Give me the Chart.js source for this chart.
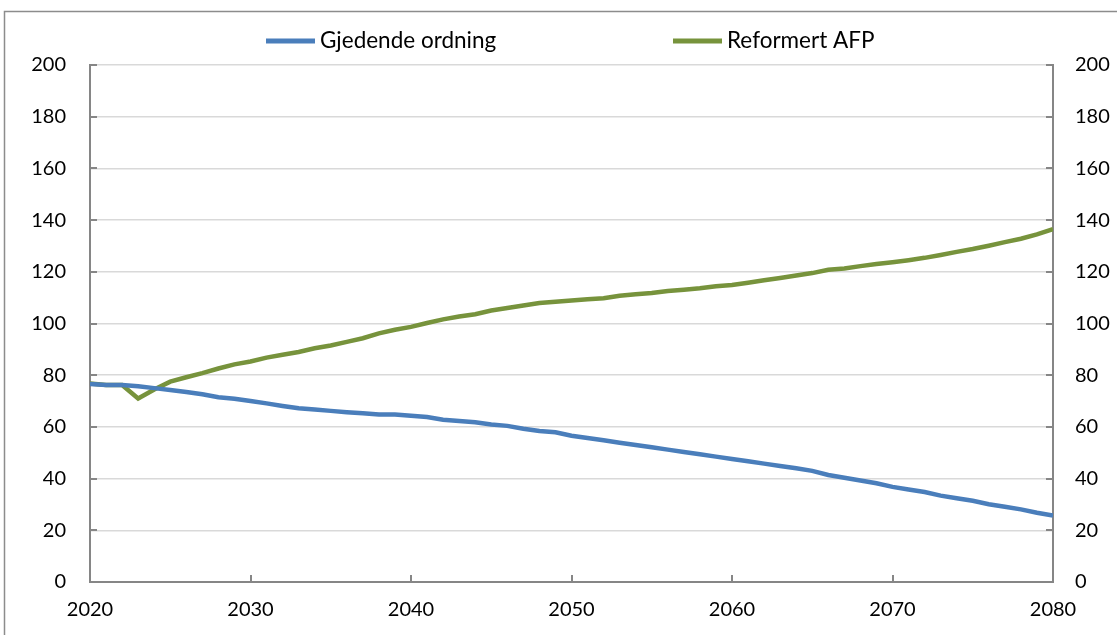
<!DOCTYPE html>
<html>
<head>
<meta charset="utf-8">
<script src="https://cdn.jsdelivr.net/npm/chart.js@4.4.1/dist/chart.umd.min.js"></script>
<style>
  html, body { margin: 0; padding: 0; background: #ffffff; }
  #wrap { position: relative; width: 1117px; height: 635px; }
  canvas { display: block; }
</style>
</head>
<body>
<div id="wrap"><canvas id="c" width="1117" height="635"></canvas></div>
<script>
// Years on the horizontal axis
const years = [
  2020, 2021, 2022, 2023, 2024, 2025, 2026, 2027, 2028, 2029,
  2030, 2031, 2032, 2033, 2034, 2035, 2036, 2037, 2038, 2039,
  2040, 2041, 2042, 2043, 2044, 2045, 2046, 2047, 2048, 2049,
  2050, 2051, 2052, 2053, 2054, 2055, 2056, 2057, 2058, 2059,
  2060, 2061, 2062, 2063, 2064, 2065, 2066, 2067, 2068, 2069,
  2070, 2071, 2072, 2073, 2074, 2075, 2076, 2077, 2078, 2079,
  2080
];

// Gjedende ordning
const gjedende = [
  76.6, 76.2, 76.2, 75.7, 75.0, 74.3, 73.5, 72.6, 71.5, 70.9,
  70.0, 69.1, 68.1, 67.2, 66.7, 66.2, 65.7, 65.3, 64.8, 64.8,
  64.3, 63.8, 62.8, 62.3, 61.8, 60.9, 60.4, 59.3, 58.4, 57.9,
  56.6, 55.7, 54.8, 53.9, 53.0, 52.1, 51.2, 50.3, 49.4, 48.5,
  47.6, 46.7, 45.8, 44.9, 44.0, 43.0, 41.4, 40.3, 39.3, 38.2,
  36.8, 35.8, 34.8, 33.4, 32.4, 31.4, 30.1, 29.1, 28.1, 26.8,
  25.7
];

// Reformert AFP
const reformert = [
  76.8, 76.2, 76.2, 71.0, 74.5, 77.5, 79.2, 80.8, 82.6, 84.2,
  85.3, 86.8, 87.9, 89.0, 90.4, 91.5, 92.9, 94.3, 96.2, 97.6,
  98.7, 100.2, 101.6, 102.7, 103.6, 105.0, 106.0, 107.0, 107.9, 108.4,
  108.9, 109.4, 109.8, 110.7, 111.3, 111.8, 112.6, 113.1, 113.6, 114.4,
  114.9, 115.8, 116.7, 117.6, 118.6, 119.5, 120.8, 121.3, 122.2, 123.0,
  123.7, 124.5, 125.4, 126.5, 127.7, 128.8, 130.1, 131.5, 132.8, 134.5,
  136.5
];

const seriesNames = ['Gjedende ordning', 'Reformert AFP'];
const seriesColors = ['#4a7ebb', '#77933c'];
const yTicks = [0, 20, 40, 60, 80, 100, 120, 140, 160, 180, 200];
const xTicks = [2020, 2030, 2040, 2050, 2060, 2070, 2080];

const FONT = "Lato, 'Open Sans', sans-serif";
const AXIS = '#868686';

const toPoints = vals => years.map((y, i) => ({ x: y, y: vals[i] }));

// Outer frame, inward tick marks and the legend row
const decor = {
  id: 'decor',
  beforeDraw(chart) {
    const ctx = chart.ctx;
    ctx.save();
    ctx.strokeStyle = '#8c8c8c';
    ctx.lineWidth = 1.5;
    ctx.strokeRect(4.5, 11.5, 1200, 700);
    ctx.restore();
  },
  afterDraw(chart) {
    const ctx = chart.ctx;
    const { x, y } = chart.scales;
    const ca = chart.chartArea;
    ctx.save();
    ctx.strokeStyle = AXIS;
    ctx.lineWidth = 2;
    ctx.beginPath();
    yTicks.forEach(v => {
      const py = Math.round(y.getPixelForValue(v));
      ctx.moveTo(ca.left, py); ctx.lineTo(ca.left + 7, py);
      ctx.moveTo(ca.right, py); ctx.lineTo(ca.right - 7, py);
    });
    xTicks.forEach(v => {
      const px = Math.round(x.getPixelForValue(v));
      ctx.moveTo(px, ca.bottom); ctx.lineTo(px, ca.bottom - 7);
    });
    ctx.stroke();

    // legend
    const starts = [266, 673];
    const ly = 41;
    ctx.font = '22.5px ' + FONT;
    ctx.textBaseline = 'middle';
    ctx.fillStyle = '#000';
    chart.data.datasets.forEach((ds, i) => {
      const sx = starts[i];
      ctx.strokeStyle = ds.borderColor;
      ctx.lineWidth = 5;
      ctx.beginPath();
      ctx.moveTo(sx, ly); ctx.lineTo(sx + 49, ly);
      ctx.stroke();
      ctx.fillText(ds.label, sx + 54, ly);
    });
    ctx.restore();
  }
};

new Chart(document.getElementById('c'), {
  type: 'line',
  data: {
    datasets: [
      { label: seriesNames[0], data: toPoints(gjedende), borderColor: seriesColors[0],
        backgroundColor: seriesColors[0], borderWidth: 4.5, pointRadius: 0, tension: 0, yAxisID: 'y' },
      { label: seriesNames[1], data: toPoints(reformert), borderColor: seriesColors[1],
        backgroundColor: seriesColors[1], borderWidth: 4.5, pointRadius: 0, tension: 0, yAxisID: 'y' }
    ]
  },
  options: {
    responsive: false,
    animation: false,
    layout: { padding: { top: 65, left: 0, right: 0, bottom: 0 } },
    plugins: { legend: { display: false }, tooltip: { enabled: false } },
    scales: {
      x: {
        type: 'linear', min: 2020, max: 2080,
        afterBuildTicks: s => { s.ticks = xTicks.map(v => ({ value: v })); },
        afterFit: s => { s.height = 53; },
        grid: { display: false, drawTicks: false },
        border: { display: true, color: AXIS, width: 2 },
        ticks: { padding: 16, color: '#000', font: { family: FONT, size: 20 }, maxRotation: 0,
                 callback: v => String(v) }
      },
      y: {
        position: 'left', min: 0, max: 200,
        afterBuildTicks: s => { s.ticks = yTicks.map(v => ({ value: v })); },
        afterFit: s => { s.width = 90; },
        grid: { color: '#d9d9d9', lineWidth: 1.5, drawTicks: false },
        border: { display: true, color: AXIS, width: 2 },
        ticks: { padding: 24, color: '#000', font: { family: FONT, size: 20 } }
      },
      y2: {
        position: 'right', min: 0, max: 200,
        afterBuildTicks: s => { s.ticks = yTicks.map(v => ({ value: v })); },
        afterFit: s => { s.width = 64; },
        grid: { display: false, drawTicks: false },
        border: { display: true, color: AXIS, width: 2 },
        ticks: { padding: 22, color: '#000', font: { family: FONT, size: 20 } }
      }
    }
  },
  plugins: [decor]
});
</script>
</body>
</html>
